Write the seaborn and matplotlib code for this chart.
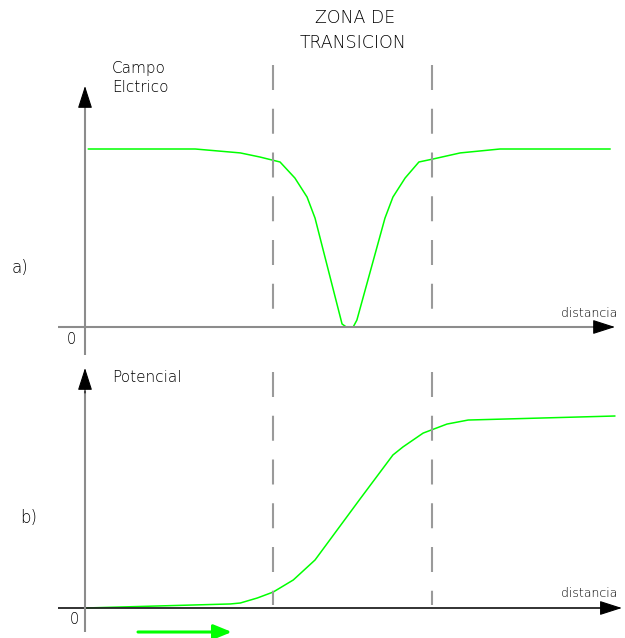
import numpy as np
import pandas as pd
import matplotlib
matplotlib.use("Agg")
import matplotlib.pyplot as plt
import seaborn as sns

sns.set_style("white")
plt.rcParams['font.family'] = ['DejaVu Sans']

# Electric field across the transition zone (normalised, plateau = 1)
campo_dist = [0.06, 2.08, 2.93, 3.30, 3.68, 3.96, 4.19, 4.34, 4.85, 4.93,
              5.06, 5.13, 5.66, 5.81, 6.04, 6.30, 6.57, 7.08, 7.83, 9.91]
campo_val = [1.0, 1.0, 0.978, 0.955, 0.927, 0.837, 0.730, 0.612, 0.017, 0.0,
             0.0, 0.039, 0.612, 0.730, 0.837, 0.927, 0.944, 0.978, 1.0, 1.0]

# Potential across the transition zone (normalised, plateau = 1)
pot_dist = [0.0, 2.74, 2.93, 3.25, 3.55, 3.93, 4.34, 5.19, 5.81, 6.00,
            6.38, 6.83, 7.23, 10.0]
pot_val = [0.0, 0.021, 0.026, 0.052, 0.083, 0.146, 0.25, 0.568, 0.797, 0.839,
           0.911, 0.958, 0.979, 1.0]

# Limits of the transition zone
zona_limites = [3.55, 6.55]

GREEN = "#00ff00"
GRAY = "#8c8c8c"
DASH = "#9a9a9a"

fig = plt.figure(figsize=(6.25, 6.38), dpi=100)
ax1 = fig.add_axes([0, 362 / 638, 1, 1 - 362 / 638])
ax2 = fig.add_axes([0, 0, 1, 362 / 638])

XL = (-85 / 53, (625 - 85) / 53)
ax1.set_xlim(*XL)
ax1.set_ylim(-(276 - 327 + 362 - 276) / 178 if False else -35 / 178, 327 / 178)
ax2.set_xlim(*XL)
ax2.set_ylim(-30 / 192, (608 - 276) / 192)
# ax1 spans pixel rows 0..276? keep exact mapping below
ax1.set_position([0, 1 - 362 / 638, 1, 362 / 638])
ax1.set_ylim(-35 / 178, 327 / 178)
ax2.set_position([0, 0, 1, 276 / 638])
ax2.set_ylim(-30 / 192, (608 - 362) / 192)

for ax in (ax1, ax2):
    ax.set_axis_off()
    ax.patch.set_alpha(0)

df_campo = pd.DataFrame({"distancia": campo_dist, "campo": campo_val})
df_pot = pd.DataFrame({"distancia": pot_dist, "potencial": pot_val})

sns.lineplot(data=df_campo, x="distancia", y="campo", ax=ax1, color=GREEN,
             lw=1.1, estimator=None, sort=False)
sns.lineplot(data=df_pot, x="distancia", y="potencial", ax=ax2, color=GREEN,
             lw=1.1, estimator=None, sort=False)


def arrow_head(ax, tip, tail):
    ax.annotate("", xy=tip, xytext=tail,
                arrowprops=dict(arrowstyle="-|>,head_length=1.4,head_width=0.45",
                                color="black", lw=0.8, shrinkA=0, shrinkB=0),
                annotation_clip=False)


# --- panel a) axes
ax1.plot([-0.51, 9.7], [0, 0], color=GRAY, lw=1.5, solid_capstyle="butt")
ax1.plot([0, 0], [-0.157, 1.30], color=GRAY, lw=1.5, solid_capstyle="butt")
arrow_head(ax1, (0, (327 - 86) / 178), (0, 1.28))
arrow_head(ax1, (10.0, 0), (9.6, 0))

# --- panel b) axes
ax2.plot([-0.51, 9.8], [0, 0], color="#222222", lw=1.3, solid_capstyle="butt")
ax2.plot([0, 0], [-0.125, 1.13], color=GRAY, lw=1.5, solid_capstyle="butt")
arrow_head(ax2, (0, (608 - 368) / 192), (0, 1.12))
arrow_head(ax2, (10.13, 0), (9.75, 0))

# --- transition zone boundaries
for x in zona_limites:
    ax1.plot([x, x], [(327 - 65) / 178, 0.011], color=DASH, lw=1.5,
             dashes=(12, 9), solid_capstyle="butt")
    ax2.plot([x, x], [(608 - 372) / 192, 0.015], color=DASH, lw=1.5,
             dashes=(12, 9), solid_capstyle="butt")

# --- direction arrow
ax2.annotate("", xy=(2.77, -0.125), xytext=(1.0, -0.125),
             arrowprops=dict(arrowstyle="-|>,head_length=1.1,head_width=0.45",
                             color=GREEN, lw=2.2, shrinkA=0, shrinkB=0),
             annotation_clip=False)

# --- texts
tk = dict(color="black", fontweight="light")
fig.text(355 / 625, 1 - 18 / 638, "ZONA DE", ha="center", va="center",
         fontsize=12.5, **tk)
fig.text(353 / 625, 1 - 43 / 638, "TRANSICION", ha="center", va="center",
         fontsize=12.5, **tk)
fig.text(112 / 625, 1 - 68 / 638, "Campo", ha="left", va="center",
         fontsize=11, **tk)
fig.text(112 / 625, 1 - 87 / 638, "Elctrico", ha="left", va="center",
         fontsize=11, **tk)
fig.text(112 / 625, 1 - 378 / 638, "Potencial", ha="left", va="center",
         fontsize=11, **tk)
fig.text(12 / 625, 1 - 268 / 638, "a)", ha="left", va="center",
         fontsize=12, **tk)
fig.text(20 / 625, 1 - 518 / 638, "b)", ha="left", va="center",
         fontsize=12, **tk)
fig.text(71 / 625, 1 - 340 / 638, "0", ha="center", va="center",
         fontsize=10.5, **tk)
fig.text(74 / 625, 1 - 619 / 638, "0", ha="center", va="center",
         fontsize=10.5, **tk)
fig.text(589 / 625, 1 - 313 / 638, "distancia", ha="center", va="center",
         fontsize=9, **tk)
fig.text(589 / 625, 1 - 593 / 638, "distancia", ha="center", va="center",
         fontsize=9, **tk)

fig.savefig("out.png", dpi=100, facecolor="white")
